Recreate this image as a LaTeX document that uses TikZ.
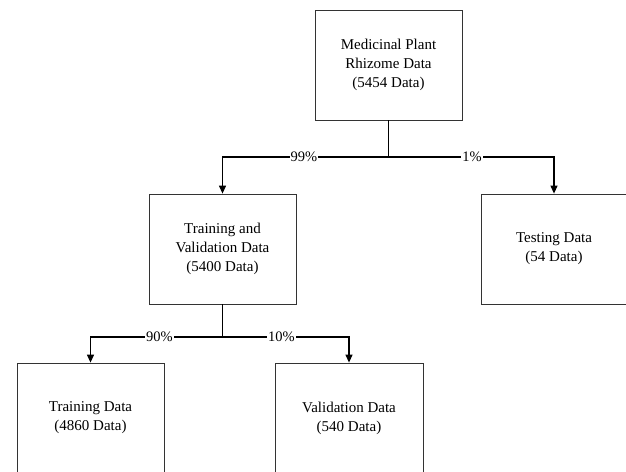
\documentclass[tikz,border=0pt]{standalone}
\usepackage{fontspec}
\setmainfont{Liberation Serif}
\usetikzlibrary{arrows.meta}
\begin{document}
\begin{tikzpicture}[x=1pt,y=-1pt,
  box/.style={draw=black!80,line width=0.8pt,fill=white,align=center,
    minimum width=147pt,minimum height=110pt,inner sep=0pt,
    font=\fontsize{15}{19}\selectfont},
  conn/.style={draw=black,line width=1.2pt},
  arr/.style={conn,-{Triangle[length=8pt,width=7pt]}},
  pct/.style={fill=white,inner sep=1pt,font=\fontsize{14.5}{17}\selectfont}]
\useasboundingbox (0,0) rectangle (626,471);
\node[box] (top) at (388.5,65) {Medicinal Plant\\Rhizome Data\\(5454 Data)};
\node[box] (mid) at (222.5,249) {Training and\\Validation Data\\(5400 Data)};
\node[box,minimum width=146pt] (test) at (554,249) {Testing Data\\(54 Data)};
\node[box] (train) at (90.5,418) {Training Data\\(4860 Data)};
\node[box,minimum width=148pt] (val) at (349,418) {Validation Data\\(540 Data)};
\coordinate (j1) at (388.5,157);
\coordinate (j2) at (222.5,337);
\draw[conn] (top.south) -- (j1);
\draw[arr] (j1) -| (mid.north);
\draw[arr] (j1) -| (test.north);
\draw[conn] (mid.south) -- (j2);
\draw[arr] (j2) -| (train.north);
\draw[arr] (j2) -| (val.north);
\node[pct] (l99) at (304,157) {99\%};
\node[pct] (l1) at (472,157) {1\%};
\node[pct] (l90) at (159.5,337) {90\%};
\node[pct] (l10) at (281.5,337) {10\%};
\end{tikzpicture}
\end{document}
